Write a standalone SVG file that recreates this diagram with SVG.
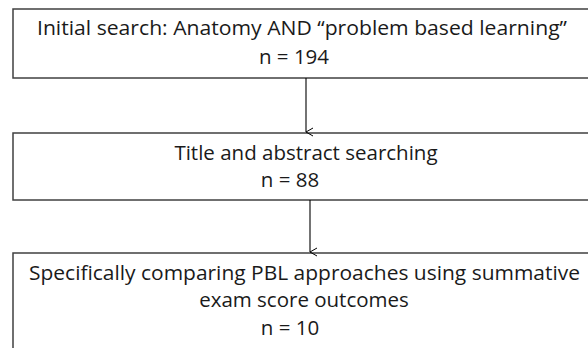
<svg xmlns="http://www.w3.org/2000/svg" width="588" height="348" viewBox="0 0 588 348">
<style>
.box{fill:#ffffff;stroke:#404040;stroke-width:1.5}
.t{font-family:"Open Sans","Noto Sans",sans-serif;font-size:20.5px;fill:#1a1a1a;text-anchor:middle}
.c{stroke:#000;stroke-width:1.1;fill:none}
</style>
<defs>
<marker id="v" markerWidth="10" markerHeight="10" refX="5" refY="8" orient="auto" markerUnits="userSpaceOnUse">
<path d="M1,1 L5,8 L9,1" fill="none" stroke="#000" stroke-width="1"/>
</marker>
</defs>
<rect width="588" height="348" fill="#ffffff"/>
<g id="node1">
<rect class="box" x="13" y="9" width="586" height="69"/>
<text class="t" x="302" y="35" textLength="530" lengthAdjust="spacingAndGlyphs">Initial search: Anatomy AND “problem based learning”</text>
<text class="t" x="294" y="64">n = 194</text>
</g>
<g id="node2">
<rect class="box" x="13" y="133" width="586" height="67"/>
<text class="t" x="306" y="160">Title and abstract searching</text>
<text class="t" x="290" y="187">n = 88</text>
</g>
<g id="node3">
<rect class="box" x="13" y="253" width="586" height="110"/>
<text class="t" x="304.5" y="280" textLength="551" lengthAdjust="spacingAndGlyphs">Specifically comparing PBL approaches using summative</text>
<text class="t" x="304" y="307">exam score outcomes</text>
<text class="t" x="290" y="335">n = 10</text>
</g>
<g id="connectors">
<line class="c" x1="306" y1="78" x2="306" y2="132" marker-end="url(#v)"/>
<line class="c" x1="310" y1="200" x2="310" y2="252" marker-end="url(#v)"/>
</g>
</svg>
